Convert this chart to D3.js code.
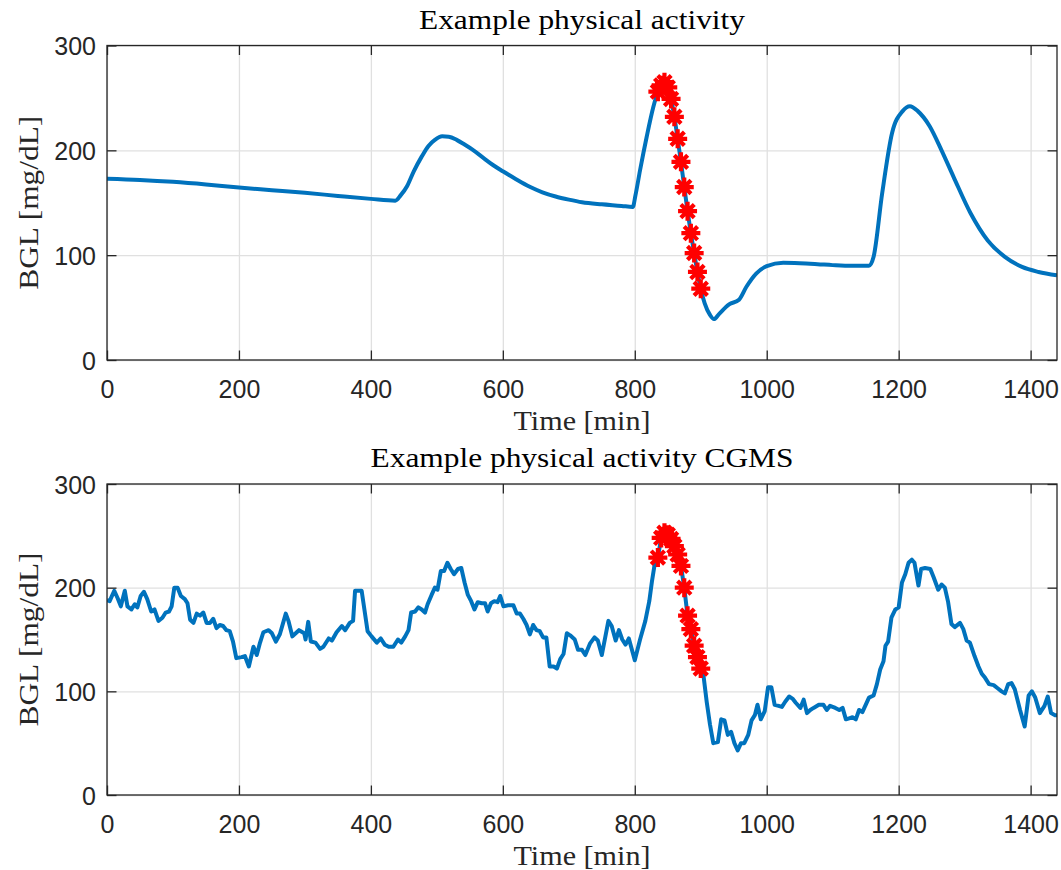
<!DOCTYPE html>
<html>
<head>
<meta charset="utf-8">
<script src="https://cdn.jsdelivr.net/npm/d3@7"></script>
<style>
  html, body { margin: 0; padding: 0; background: #fff; }
  svg { display: block; }
</style>
</head>
<body>
<div id="chart"></div>
<script>
// ---------------- data ----------------
const xTicks = [0, 200, 400, 600, 800, 1000, 1200, 1400];
const yTicks = [0, 100, 200, 300];

const titles = ["Example physical activity", "Example physical activity CGMS"];
const xLabel = "Time [min]";
const yLabel = "BGL [mg/dL]";

// top panel: simulated blood glucose (smooth)
const bglTime = [0, 50, 100, 150, 200, 250, 300, 350, 400, 437, 445, 455, 465, 477, 487, 497, 508, 518, 530, 542, 554, 570, 585, 600, 620, 640, 660, 680, 700, 720, 750, 780, 797, 801, 808, 818, 828, 835, 840, 845, 850, 855, 860, 865, 870, 875, 880, 885, 890, 895, 900, 906, 914, 920, 928, 943, 958, 969, 984, 1000, 1025, 1050, 1077, 1100, 1129, 1155, 1162, 1175, 1190, 1206, 1217, 1229, 1247, 1265, 1283, 1309, 1335, 1361, 1387, 1412, 1440];
const bglValue = [173, 171.8, 170, 167.5, 164.5, 162, 159.5, 156.5, 153.7, 152, 157, 166, 180, 194, 204, 210, 213.4, 213, 210, 205.5, 200.6, 193, 186, 180, 172.5, 165.5, 160, 156, 153, 150.5, 148.5, 147, 146, 157, 181, 212.7, 241, 256, 262, 265, 260, 249, 232, 211, 189, 165, 142, 121, 102, 84, 68, 54, 43, 39, 44, 53, 57.5, 69.6, 82.4, 89.5, 92.7, 92.3, 91.4, 90.5, 89.8, 89.8, 98.4, 159, 216.6, 237.4, 242, 237.4, 223, 200, 175, 140, 114, 98.4, 88.8, 84, 80.8];

// bottom panel: CGMS readings
const cgmsTime = [0, 4, 11, 16, 21, 27, 31, 37, 42, 46, 51, 56, 61, 67, 72, 78, 84, 89, 94, 98, 102, 107, 112, 118, 122, 126, 131, 136, 141, 146, 151, 156, 161, 166, 171, 176, 181, 186, 191, 196, 204, 209, 215, 222, 227, 232, 237, 245, 250, 256, 262, 271, 275, 281, 286, 291, 299, 301, 305, 309, 316, 323, 328, 336, 341, 348, 356, 361, 368, 373, 376, 386, 395, 401, 409, 415, 421, 427, 434, 441, 446, 452, 457, 461, 467, 472, 477, 482, 486, 492, 497, 501, 506, 511, 516, 521, 526, 532, 537, 542, 547, 552, 557, 562, 568, 573, 577, 582, 587, 592, 596, 601, 608, 616, 621, 626, 631, 636, 641, 646, 651, 656, 661, 666, 671, 677, 682, 687, 692, 697, 702, 709, 714, 720, 725, 732, 739, 744, 750, 760, 765, 771, 776, 781, 786, 791, 800, 808, 816, 822, 826, 830, 835, 840, 845, 850, 855, 860, 865, 870, 875, 880, 885, 890, 895, 900, 904, 909, 914, 919, 926, 931, 936, 941, 946, 951, 956, 961, 966, 972, 977, 982, 986, 991, 997, 1002, 1007, 1012, 1018, 1023, 1028, 1034, 1039, 1044, 1051, 1056, 1061, 1066, 1071, 1079, 1086, 1091, 1096, 1104, 1110, 1115, 1120, 1125, 1130, 1135, 1140, 1145, 1150, 1155, 1162, 1167, 1172, 1177, 1180, 1184, 1189, 1195, 1200, 1205, 1210, 1215, 1220, 1224, 1230, 1234, 1240, 1248, 1253, 1260, 1265, 1270, 1275, 1280, 1285, 1293, 1298, 1303, 1308, 1315, 1321, 1326, 1331, 1337, 1344, 1350, 1356, 1361, 1366, 1371, 1376, 1384, 1391, 1397, 1402, 1407, 1414, 1421, 1426, 1431, 1437, 1440];
const cgmsValue = [188, 187, 197, 190, 182, 197, 182, 179, 184, 181, 192, 196, 189, 177, 179, 168, 171, 176, 177, 182, 200, 200, 192, 189, 185, 169, 166, 175, 173, 176, 166, 166, 170, 161, 164, 163, 159, 158, 148, 132, 133, 134, 124, 143, 135, 147, 157, 159, 156, 148, 155, 175, 168, 153, 156, 159, 156, 150, 167, 148, 147, 141, 143, 151, 149, 157, 163, 159, 166, 168, 197, 197, 158, 153, 147, 151, 145, 143, 143, 150, 147, 153, 159, 176, 177, 181, 179, 176, 184, 193, 200, 198, 216, 216, 224, 218, 213, 218, 219, 205, 193, 187, 179, 186, 185, 185, 177, 185, 187, 186, 192, 182, 183, 183, 175, 175, 170, 164, 155, 164, 159, 158, 152, 152, 124, 124, 122, 131, 136, 156, 154, 150, 140, 140, 135, 146, 152, 149, 135, 168, 163, 149, 159, 150, 145, 151, 130, 150, 168, 187, 206, 222, 229, 248, 253, 251, 247, 240, 232, 221, 200, 173, 160, 144, 133, 122, 116, 90, 68, 50, 51, 73, 72, 58, 61, 50, 43, 50, 50, 58, 72, 77, 87, 73, 81, 104, 104, 87, 86, 85, 90, 95, 93, 89, 84, 92, 79, 82, 84, 87, 87, 82, 86, 84, 82, 84, 73, 74, 75, 73, 82, 80, 87, 94, 96, 107, 121, 129, 144, 148, 171, 179, 181, 205, 213, 224, 227, 224, 202, 218, 219, 218, 210, 198, 203, 200, 186, 165, 162, 166, 160, 149, 147, 134, 124, 117, 113, 107, 106, 103, 100, 98, 107, 108, 102, 82, 66, 96, 100, 94, 79, 86, 95, 79, 77, 77];

// physical activity period markers (red asterisks)
const paTime = [835, 840, 845, 850, 855, 860, 865, 870, 875, 880, 885, 890, 895, 900];
const paBGL = [256, 262, 265, 260, 249, 232, 211, 189, 165, 142, 121, 102, 84, 68];
const paCGMS = [229, 248, 253, 251, 247, 240, 232, 221, 200, 173, 160, 144, 133, 122];

// ---------------- layout ----------------
const W = 1061, H = 870;
const panels = [
  { top: 45.5, bottom: 360, title: titles[0], titleLen: 326, t: bglTime, v: bglValue, mv: paBGL, curve: d3.curveMonotoneX },
  { top: 484, bottom: 795, title: titles[1], titleLen: 423, t: cgmsTime, v: cgmsValue, mv: paCGMS, curve: d3.curveLinear }
];
const left = 107, right = 1057;
const axisColor = "#262626";
const gridColor = "#e0e0e0";
const lineColor = "#0072BD";
const markColor = "#FF0000";
const tickLen = 9.5;
const serif = "'Liberation Serif', 'Times New Roman', serif";
const sans = "'Liberation Sans', Arial, Helvetica, sans-serif";

const svg = d3.select("#chart").append("svg")
  .attr("width", W).attr("height", H)
  .attr("viewBox", `0 0 ${W} ${H}`);
svg.append("rect").attr("width", W).attr("height", H).attr("fill", "#fff");

// 8-armed asterisk (plus + cross)
const asterisk = {
  draw(ctx, size) {
    const r = Math.sqrt(size) / 2;
    const d = r * Math.SQRT1_2;
    ctx.moveTo(-r, 0); ctx.lineTo(r, 0);
    ctx.moveTo(0, -r); ctx.lineTo(0, r);
    ctx.moveTo(-d, -d); ctx.lineTo(d, d);
    ctx.moveTo(-d, d); ctx.lineTo(d, -d);
  }
};

panels.forEach((p, i) => {
  const x = d3.scaleLinear().domain([0, 1440]).range([left, right]);
  const y = d3.scaleLinear().domain([0, 300]).range([p.bottom, p.top]);
  const h = p.bottom - p.top, w = right - left;
  const g = svg.append("g");

  // grid
  g.append("g").attr("transform", `translate(0,${p.bottom})`)
    .call(d3.axisBottom(x).tickValues(xTicks).tickSize(-h).tickFormat(""))
    .call(s => s.select(".domain").remove())
    .call(s => s.selectAll("line").attr("stroke", gridColor).attr("stroke-width", 1.3));
  g.append("g").attr("transform", `translate(${left},0)`)
    .call(d3.axisLeft(y).tickValues(yTicks).tickSize(-w).tickFormat(""))
    .call(s => s.select(".domain").remove())
    .call(s => s.selectAll("line").attr("stroke", gridColor).attr("stroke-width", 1.3));

  // clip
  const clipId = "clip" + i;
  svg.append("clipPath").attr("id", clipId)
    .append("rect").attr("x", left).attr("y", p.top - 20).attr("width", w).attr("height", h + 20);

  // line
  const data = p.t.map((t, k) => [t, p.v[k]]);
  g.append("path").datum(data)
    .attr("clip-path", `url(#${clipId})`)
    .attr("fill", "none").attr("stroke", lineColor).attr("stroke-width", 4)
    .attr("stroke-linejoin", "round")
    .attr("d", d3.line().x(d => x(d[0])).y(d => y(d[1])).curve(p.curve));

  // markers
  const sym = d3.symbol().type(asterisk).size(19 * 19);
  g.append("g").selectAll("path").data(paTime.map((t, k) => [t, p.mv[k]]))
    .join("path")
    .attr("transform", d => `translate(${x(d[0])},${y(d[1])})`)
    .attr("d", sym)
    .attr("fill", "none").attr("stroke", markColor).attr("stroke-width", 4.2);

  // axes (ticks inward on all four sides)
  const styleAxis = s => {
    s.select(".domain").remove();
    s.selectAll(".tick line").attr("stroke", axisColor).attr("stroke-width", 1.3);
    s.selectAll("text").attr("fill", axisColor).attr("font-family", sans).attr("font-size", 25);
  };
  g.append("g").attr("transform", `translate(0,${p.bottom})`)
    .call(d3.axisBottom(x).tickValues(xTicks).tickSizeInner(-tickLen).tickSizeOuter(0).tickPadding(20).tickFormat(d3.format("d")))
    .call(styleAxis);
  g.append("g").attr("transform", `translate(0,${p.top})`)
    .call(d3.axisTop(x).tickValues(xTicks).tickSizeInner(-tickLen).tickSizeOuter(0).tickFormat(""))
    .call(styleAxis);
  g.append("g").attr("transform", `translate(${left},0)`)
    .call(d3.axisLeft(y).tickValues(yTicks).tickSizeInner(-tickLen).tickSizeOuter(0).tickPadding(11).tickFormat(d3.format("d")))
    .call(styleAxis)
    .call(s => s.selectAll("text").attr("dy", "0.36em"));
  g.append("g").attr("transform", `translate(${right},0)`)
    .call(d3.axisRight(y).tickValues(yTicks).tickSizeInner(-tickLen).tickSizeOuter(0).tickFormat(""))
    .call(styleAxis);

  // box
  g.append("rect").attr("x", left).attr("y", p.top).attr("width", w).attr("height", h)
    .attr("fill", "none").attr("stroke", axisColor).attr("stroke-width", 1.3);

  // title
  g.append("text").attr("x", (left + right) / 2).attr("y", p.top - 17)
    .attr("text-anchor", "middle").attr("font-family", serif).attr("font-size", 27)
    .attr("textLength", p.titleLen).attr("lengthAdjust", "spacingAndGlyphs")
    .attr("fill", "#000").text(p.title);

  // x label
  g.append("text").attr("x", (left + right) / 2).attr("y", p.bottom + 70)
    .attr("text-anchor", "middle").attr("font-family", serif).attr("font-size", 27)
    .attr("textLength", 137).attr("lengthAdjust", "spacingAndGlyphs")
    .attr("fill", axisColor).text(xLabel);

  // y label
  g.append("text")
    .attr("transform", `translate(38,${(p.top + p.bottom) / 2}) rotate(-90)`)
    .attr("text-anchor", "middle").attr("font-family", serif).attr("font-size", 27)
    .attr("textLength", 174).attr("lengthAdjust", "spacingAndGlyphs")
    .attr("fill", axisColor).text(yLabel);
});
</script>
</body>
</html>
